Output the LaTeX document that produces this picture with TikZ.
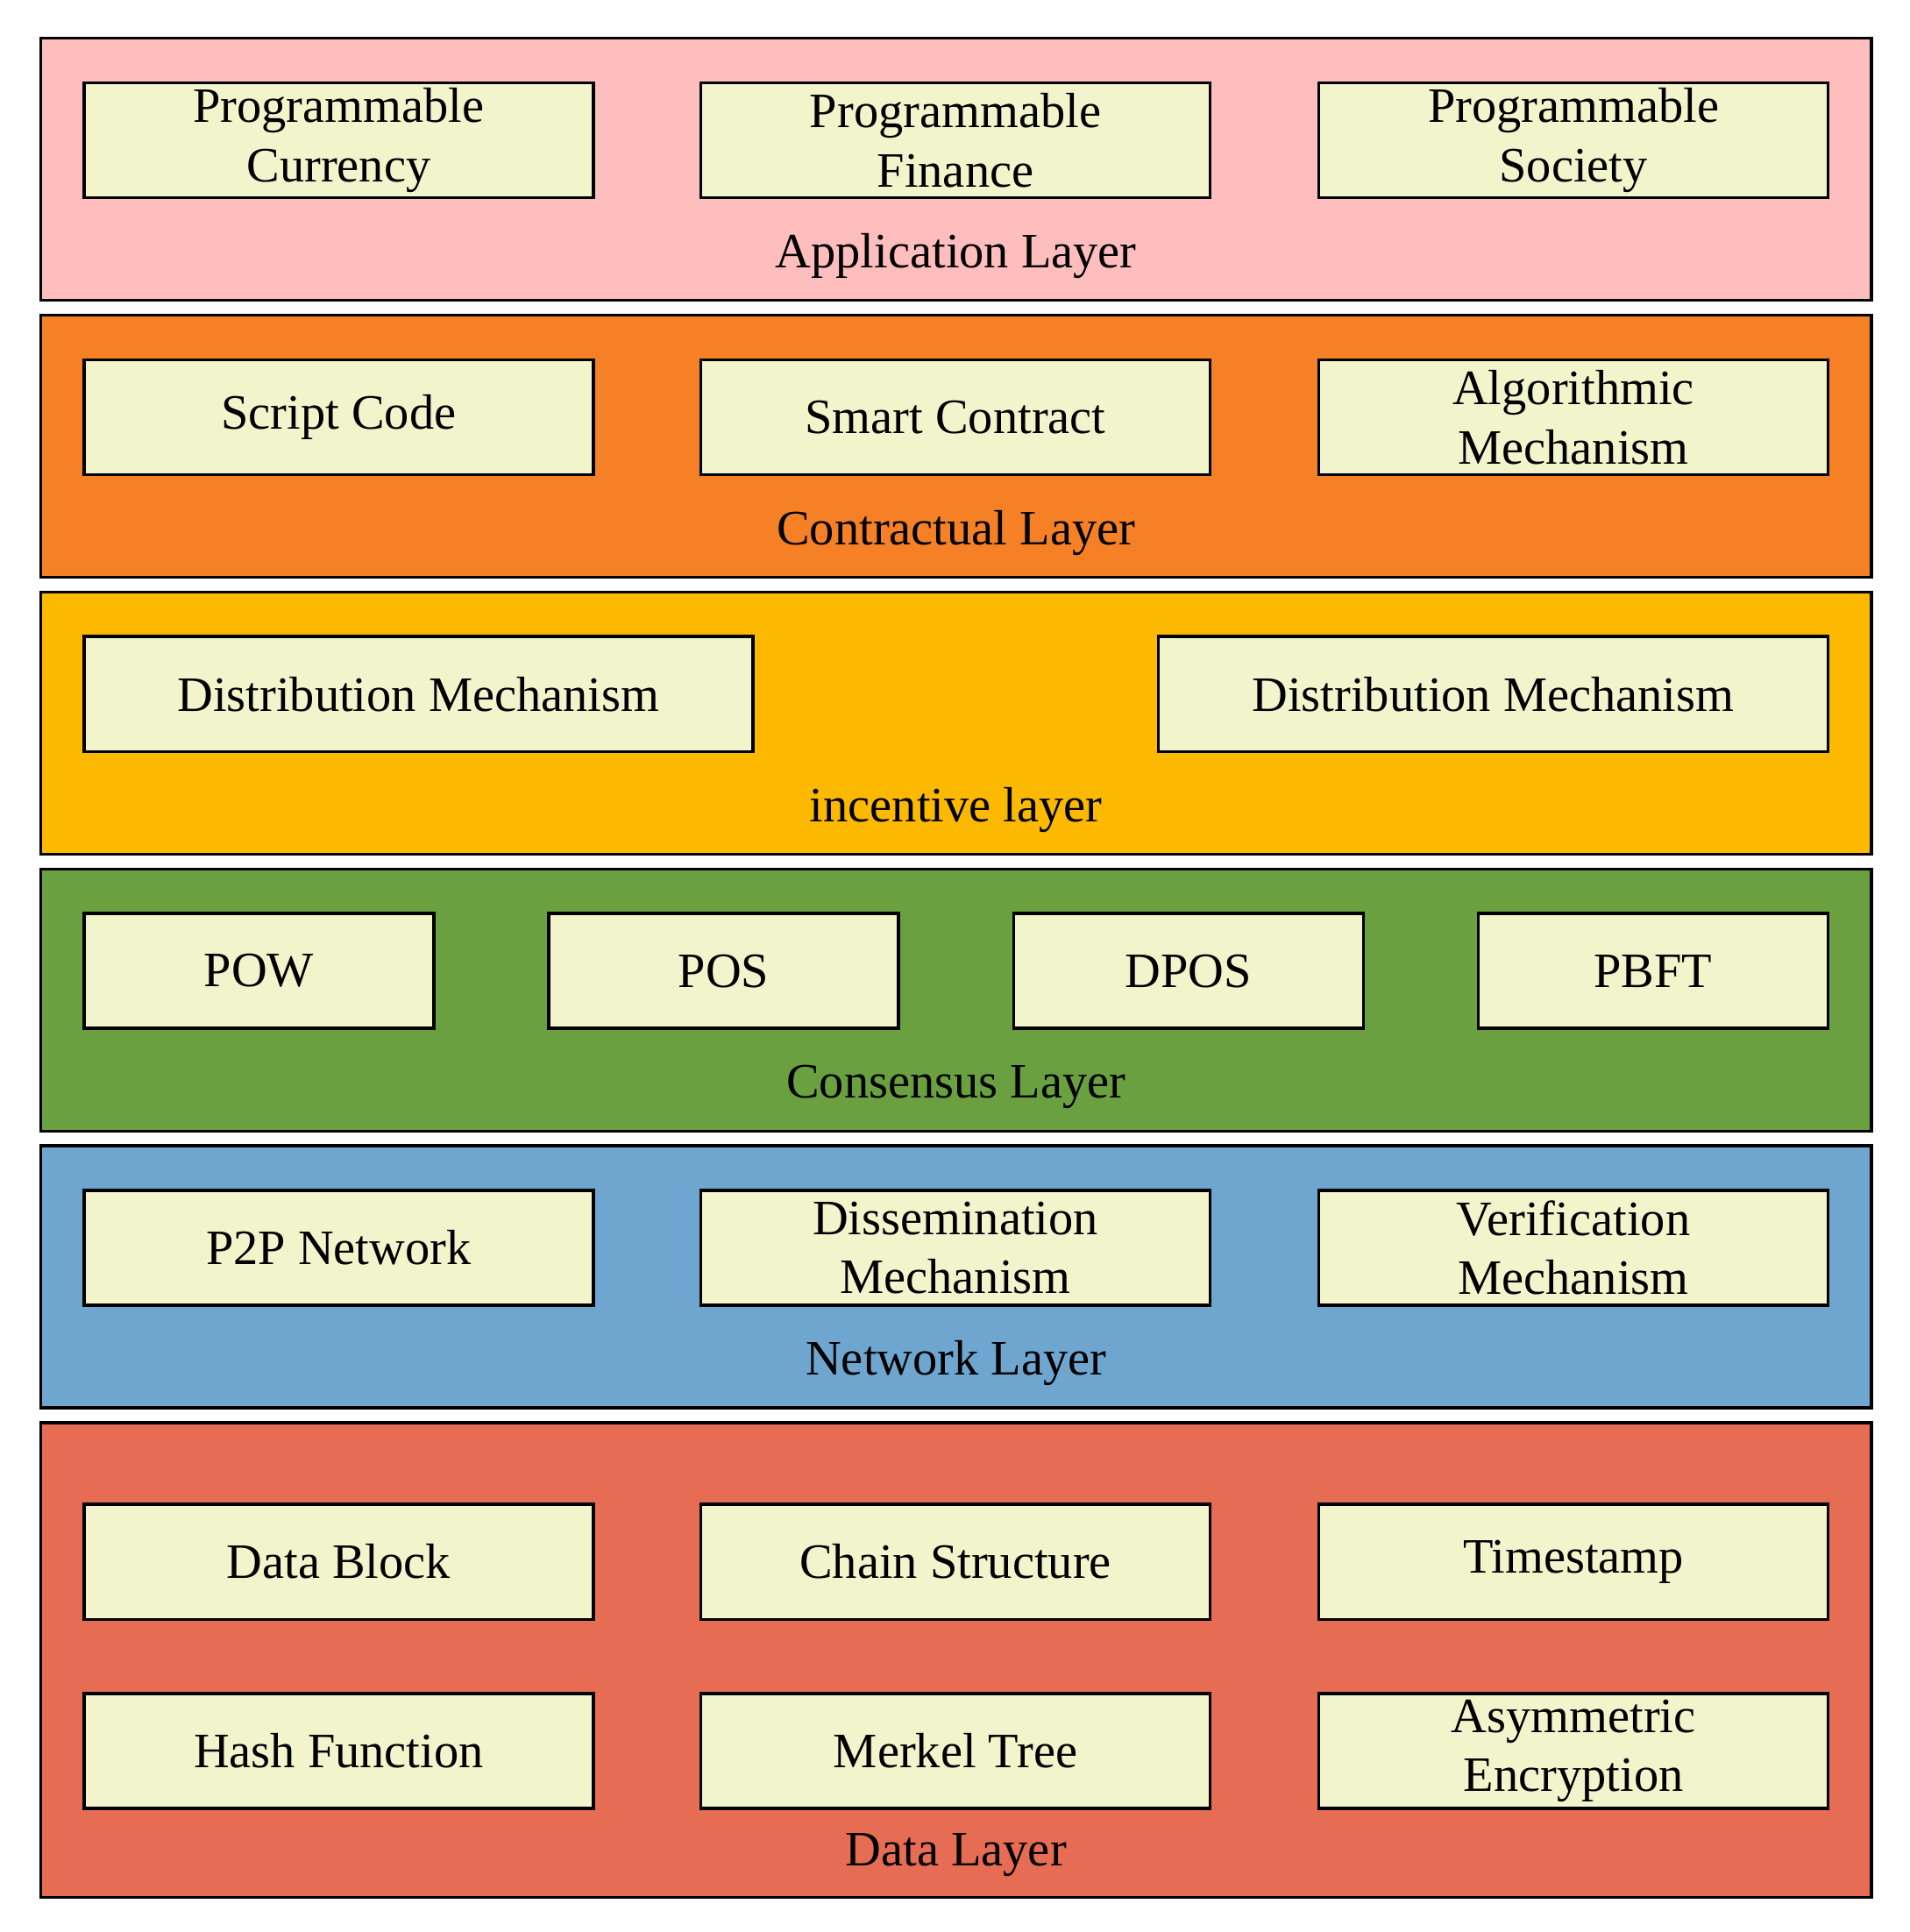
\documentclass[tikz,border=0pt]{standalone}
\usepackage{fontspec}
\setmainfont{Liberation Serif}
\definecolor{capp}{RGB}{255,190,190}
\definecolor{ccon}{RGB}{245,128,37}
\definecolor{cinc}{RGB}{253,185,0}
\definecolor{ccns}{RGB}{106,160,64}
\definecolor{cnet}{RGB}{110,166,207}
\definecolor{cdat}{RGB}{230,109,83}
\definecolor{cbox}{RGB}{242,244,204}
\begin{document}
\begin{tikzpicture}[x=1pt,y=-1pt,
  layer/.style={draw=black,line width=2.5pt},
  box/.style={draw=black,line width=2.5pt,fill=cbox},
  txt/.style={font=\fontsize{40}{48}\selectfont,align=center,inner sep=0pt},
  lbl/.style={font=\fontsize{40}{48}\selectfont,inner sep=0pt}]
\useasboundingbox (0,0) rectangle (1545,1563);
% layers
\draw[layer,fill=capp] (33,31) rectangle (1514,243);
\draw[layer,fill=ccon] (33,255) rectangle (1514,467);
\draw[layer,fill=cinc] (33,479) rectangle (1514,691);
\draw[layer,fill=ccns] (33,703) rectangle (1514,915);
\draw[layer,fill=cnet] (33,927) rectangle (1514,1139);
\draw[layer,fill=cdat] (33,1151) rectangle (1514,1535);
\node[lbl] (lapp) at (773.5,207) {Application Layer};
\node[lbl] (lcon) at (773.5,431) {Contractual Layer};
\node[lbl] (linc) at (773.5,655) {incentive layer};
\node[lbl] (lcns) at (773.5,879) {Consensus Layer};
\node[lbl] (lnet) at (773.5,1103) {Network Layer};
\node[lbl] (ldat) at (773.5,1501) {Data Layer};
% boxes macro-free
\newcommand{\bx}[6]{\draw[box] (#2,#3) rectangle (#4,#5); \node[txt] (#1) at ({(#2+#4)/2},{(#3+#5)/2}) {#6};}
\bx{a1}{68}{67}{480}{160}{Programmable\\Currency}
\bx{a2}{567}{67}{979}{160}{Programmable\\Finance}
\bx{a3}{1067}{67}{1479}{160}{Programmable\\Society}
\bx{c1}{68}{291}{480}{384}{Script Code}
\bx{c2}{567}{291}{979}{384}{Smart Contract}
\bx{c3}{1067}{291}{1479}{384}{Algorithmic\\Mechanism}
\bx{i1}{68}{515}{609}{608}{Distribution Mechanism}
\bx{i2}{937}{515}{1479}{608}{Distribution Mechanism}
\bx{s1}{68}{739}{351}{832}{POW}
\bx{s2}{444}{739}{727}{832}{POS}
\bx{s3}{820}{739}{1103}{832}{DPOS}
\bx{s4}{1196}{739}{1479}{832}{PBFT}
\bx{n1}{68}{963}{480}{1056}{P2P Network}
\bx{n2}{567}{963}{979}{1056}{Dissemination\\Mechanism}
\bx{n3}{1067}{963}{1479}{1056}{Verification\\Mechanism}
\bx{d1}{68}{1217}{480}{1310}{Data Block}
\bx{d2}{567}{1217}{979}{1310}{Chain Structure}
\bx{d3}{1067}{1217}{1479}{1310}{Timestamp}
\bx{d4}{68}{1370}{480}{1463}{Hash Function}
\bx{d5}{567}{1370}{979}{1463}{Merkel Tree}
\bx{d6}{1067}{1370}{1479}{1463}{Asymmetric\\Encryption}
\end{tikzpicture}
\end{document}
